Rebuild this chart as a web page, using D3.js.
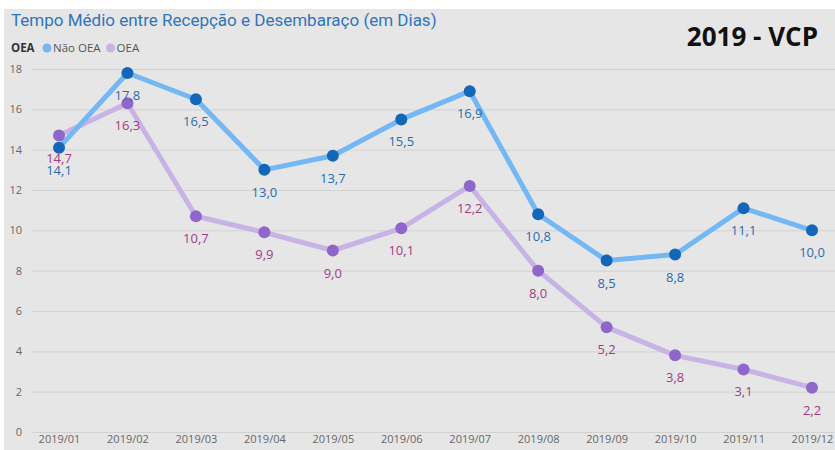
<!DOCTYPE html>
<html>
<head>
<meta charset="utf-8">
<script src="https://cdn.jsdelivr.net/npm/d3@7"></script>
<style>
  body { margin: 0; background: #fff; }
  svg { display: block; }
</style>
</head>
<body>
<div id="app"></div>
<script>
const width = 835;
const height = 450;

const months = ['2019/01', '2019/02', '2019/03', '2019/04', '2019/05', '2019/06',
  '2019/07', '2019/08', '2019/09', '2019/10', '2019/11', '2019/12'];
const naoOea = [14.1, 17.8, 16.5, 13.0, 13.7, 15.5, 16.9, 10.8, 8.5, 8.8, 11.1, 10.0];
const oea = [14.7, 16.3, 10.7, 9.9, 9.0, 10.1, 12.2, 8.0, 5.2, 3.8, 3.1, 2.2];
const yTicks = [0, 2, 4, 6, 8, 10, 12, 14, 16, 18];

const series = [
  {name: 'Não OEA', values: naoOea, line: '#74b7f5', dot: '#1466b8', text: '#2b6cb0'},
  {name: 'OEA', values: oea, line: '#c8b4e4', dot: '#8f66c9', text: '#a33c84'},
];

const x = d3.scalePoint().domain(months).range([59, 812]);
const y = d3.scaleLinear().domain([0, 18]).range([432, 69]);

const svg = d3.create('svg')
  .attr('width', width)
  .attr('height', height)
  .style('font-family', '"Open Sans", "Noto Sans", sans-serif');
document.getElementById('app').appendChild(svg.node());

svg.append('rect')
  .attr('x', 4).attr('y', 9)
  .attr('width', width - 4).attr('height', height - 9)
  .attr('fill', '#e6e6e6');

svg.append('text')
  .attr('x', 11).attr('y', 26)
  .attr('fill', '#2f74bd')
  .attr('font-size', 17)
  .style('font-family', 'Roboto, "Noto Sans", sans-serif')
  .text('Tempo Médio entre Recepção e Desembaraço (em Dias)');

svg.append('text')
  .attr('x', 818).attr('y', 46)
  .attr('text-anchor', 'end')
  .attr('font-size', 26)
  .attr('font-weight', 'bold')
  .attr('fill', '#111')
  .text('2019 - VCP');

// legend
const legend = svg.append('g').attr('font-size', 11.5).attr('fill', '#555');
legend.append('text').attr('x', 11).attr('y', 52)
  .attr('font-weight', 'bold').attr('fill', '#333').text('OEA');
let lx = 47;
series.forEach((s) => {
  legend.append('circle').attr('cx', lx).attr('cy', 48).attr('r', 4.5).attr('fill', s.line);
  const t = legend.append('text').attr('x', lx + 6).attr('y', 52).text(s.name);
  lx += 6 + t.node().getComputedTextLength() + 10;
});

// grid + y axis
const yAxis = svg.append('g')
  .attr('transform', 'translate(32,0)')
  .call(d3.axisLeft(y).tickValues(yTicks).tickSize(-(width - 32)).tickFormat(d3.format('d')));
yAxis.select('.domain').remove();
yAxis.selectAll('.tick line').attr('stroke', '#d2d2d2');
yAxis.selectAll('.tick text')
  .attr('x', -10)
  .attr('fill', '#666')
  .attr('font-size', 11)
  .style('font-family', '"Open Sans", sans-serif');

// x axis
const xAxis = svg.append('g')
  .attr('transform', 'translate(0,432)')
  .call(d3.axisBottom(x).tickSize(0).tickPadding(3));
xAxis.select('.domain').remove();
xAxis.selectAll('.tick text')
  .attr('fill', '#666')
  .attr('font-size', 11)
  .style('font-family', '"Open Sans", sans-serif');

const line = d3.line().x((d, i) => x(months[i])).y((d) => y(d));

// lines: OEA first then Não OEA on top
[series[1], series[0]].forEach((s) => {
  svg.append('path')
    .attr('d', line(s.values))
    .attr('fill', 'none')
    .attr('stroke', s.line)
    .attr('stroke-width', 5)
    .attr('stroke-linejoin', 'round');
});

[series[1], series[0]].forEach((s) => {
  svg.append('g').selectAll('circle')
    .data(s.values)
    .join('circle')
    .attr('cx', (d, i) => x(months[i]))
    .attr('cy', (d) => y(d))
    .attr('r', 6)
    .attr('fill', s.dot);
});

series.forEach((s) => {
  svg.append('g').selectAll('text')
    .data(s.values)
    .join('text')
    .attr('x', (d, i) => x(months[i]))
    .attr('y', (d) => y(d) + 27)
    .attr('text-anchor', 'middle')
    .attr('font-size', 13)
    .attr('fill', s.text)
    .text((d) => d3.format('.1f')(d).replace('.', ','));
});
</script>
</body>
</html>
